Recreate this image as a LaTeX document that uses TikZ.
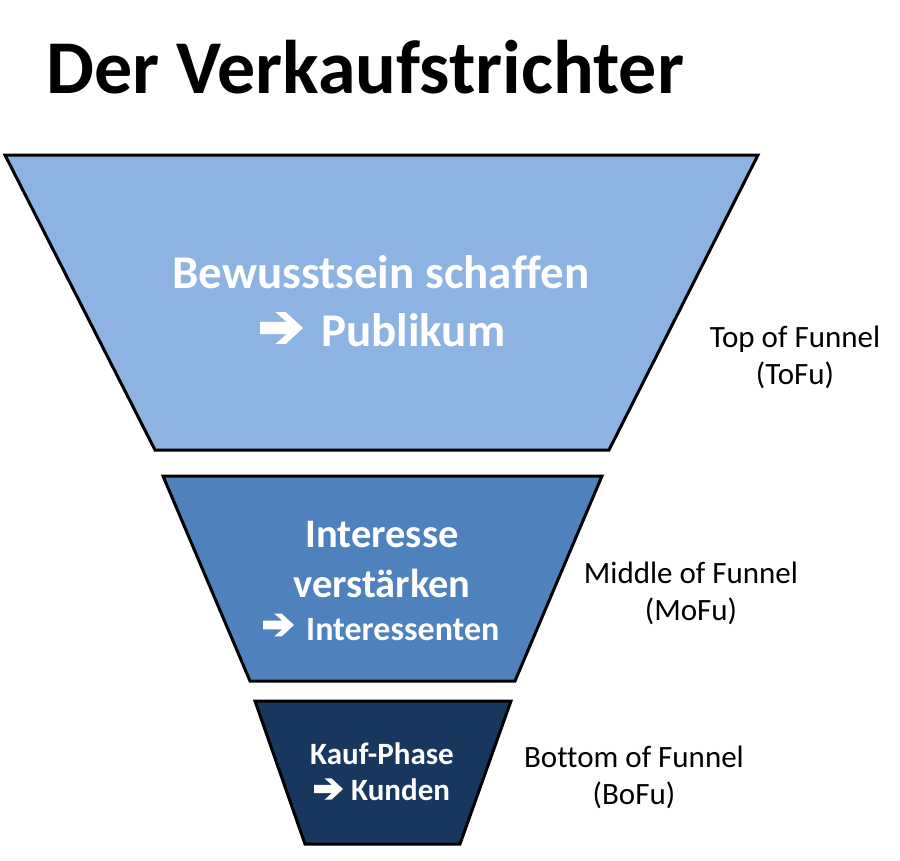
\documentclass[tikz,border=0pt]{standalone}
\usepackage{fontspec}
\setmainfont{Carlito}[Ligatures=NoCommon]
\definecolor{topblue}{HTML}{8DB3E2}
\definecolor{midblue}{HTML}{4F81BD}
\definecolor{botblue}{HTML}{17375E}
% block arrow: #1 = left x, #2 = centre y, #3 = width
\newcommand{\wingarrow}[3]{%
  \fill[white, shift={(#1,#2)}, xscale=#3, yscale=#3]
    (0,-0.14) -- (0.62,-0.14) -- (0.36,-0.37) -- (0.60,-0.37) -- (1,0)
    -- (0.60,0.37) -- (0.36,0.37) -- (0.62,0.14) -- (0,0.14) -- cycle;}
\begin{document}
\begin{tikzpicture}[x=1pt,y=-1pt,
  funnel/.style={draw=black, line width=3pt, line join=miter},
  intext/.style={text=white, anchor=base, inner sep=0pt},
  side/.style={text=black, anchor=base, inner sep=0pt, font=\fontsize{31}{36}\selectfont}]
\useasboundingbox (0,0) rectangle (900,860);
% title
\node[anchor=base west, inner sep=0pt, font=\fontsize{76}{80}\selectfont\bfseries] (title) at (46,93) {Der Verkaufstrichter};
% funnel parts
\draw[funnel, fill=topblue] (5,155) coordinate (t1) -- (758,155) coordinate (t2) -- (609,450) coordinate (t3) -- (155,450) coordinate (t4) -- cycle;
\draw[funnel, fill=midblue] (163,476) coordinate (m1) -- (602,476) coordinate (m2) -- (515,681) coordinate (m3) -- (250,681) coordinate (m4) -- cycle;
\draw[funnel, fill=botblue] (255,701) coordinate (b1) -- (511,701) coordinate (b2) -- (460,844) coordinate (b3) -- (305,844) coordinate (b4) -- cycle;
% texts inside
\node[intext, font=\fontsize{47}{52}\selectfont\bfseries] (tA) at (381,288) {Bewusstsein schaffen};
\wingarrow{260}{328}{43}
\node[intext, anchor=base west, font=\fontsize{47}{52}\selectfont\bfseries] (tB) at (321,346) {Publikum};
\node[intext, font=\fontsize{40.5}{46}\selectfont\bfseries] (mA) at (382,547) {Interesse};
\node[intext, font=\fontsize{40.5}{46}\selectfont\bfseries] (mB) at (382,597) {verstärken};
\wingarrow{263}{625}{31}
\node[intext, anchor=base west, font=\fontsize{34}{40}\selectfont\bfseries] (mC) at (306,640) {Interessenten};
\node[intext, font=\fontsize{31}{36}\selectfont\bfseries] (bA) at (382,764) {Kauf-Phase};
\wingarrow{314}{789}{29}
\node[intext, anchor=base west, font=\fontsize{31}{36}\selectfont\bfseries] (bB) at (351,800) {Kunden};
% side labels
\node[side] (tofu1) at (795,347) {Top of Funnel};
\node[side] (tofu2) at (795,384) {(ToFu)};
\node[side] (mofu1) at (691,583) {Middle of Funnel};
\node[side] (mofu2) at (691,620) {(MoFu)};
\node[side] (bofu1) at (634,767) {Bottom of Funnel};
\node[side] (bofu2) at (634,804) {(BoFu)};
\end{tikzpicture}
\end{document}
